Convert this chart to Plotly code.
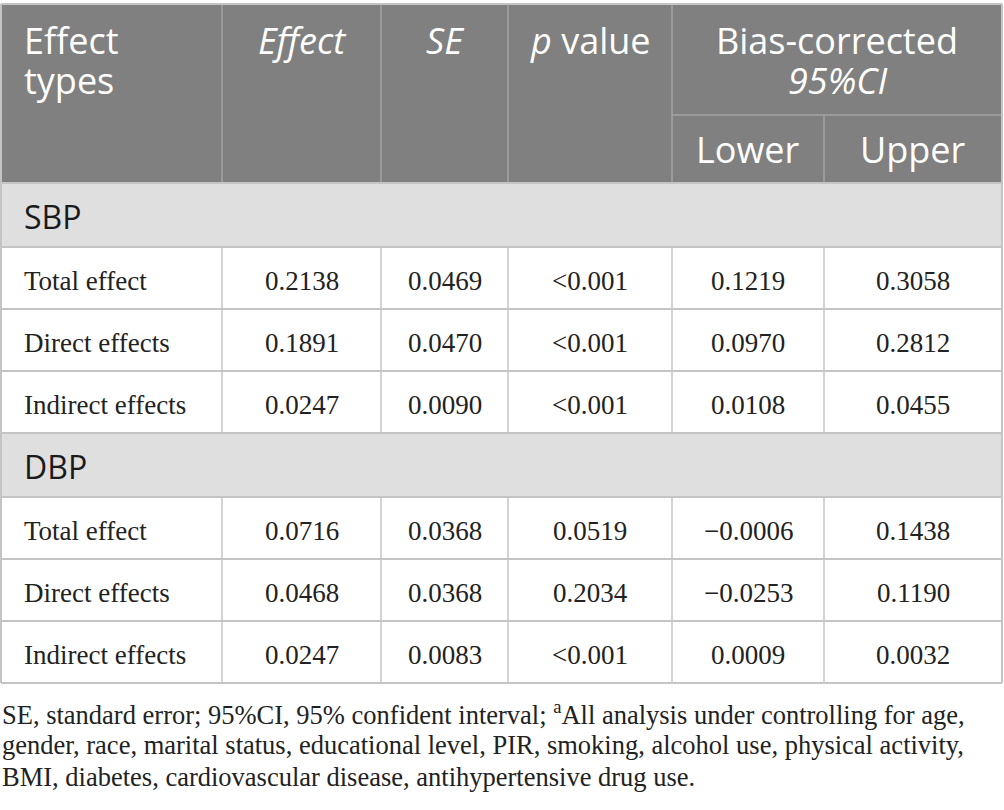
import plotly.graph_objects as go

# table content
header_top = ["Effect types", "Effect", "SE", "p value", "Bias-corrected 95%CI"]
header_sub = ["Lower", "Upper"]
groups = ["SBP", "DBP"]
effect_types = ["Total effect", "Direct effects", "Indirect effects"]

effect = [["0.2138", "0.1891", "0.0247"], ["0.0716", "0.0468", "0.0247"]]
se = [["0.0469", "0.0470", "0.0090"], ["0.0368", "0.0368", "0.0083"]]
p_value = [["<0.001", "<0.001", "<0.001"], ["0.0519", "0.2034", "<0.001"]]
ci_lower = [["0.1219", "0.0970", "0.0108"], ["\u22120.0006", "\u22120.0253", "0.0009"]]
ci_upper = [["0.3058", "0.2812", "0.0455"], ["0.1438", "0.1190", "0.0032"]]

footnote = [
    "SE, standard error; 95%CI, 95% confident interval; <sup>a</sup>All analysis under controlling for age,",
    "gender, race, marital status, educational level, PIR, smoking, alcohol use, physical activity,",
    "BMI, diabetes, cardiovascular disease, antihypertensive drug use.",
]

W, H = 1004, 810
col_edges = [1, 222, 381, 508, 672, 824, 1002]
head_top, head_mid, head_bot = 4, 115, 183
row_h = 62
group_h = 64

HEAD_BG = "#7f807f"
GROUP_BG = "#e0dfe0"
LINE = "#c4c4c4"
HEAD_LINE = "#a3a3a3"
SANS = "Open Sans"
SERIF = "Liberation Serif"

shapes = []
annotations = []


def rect(x0, y0, x1, y1, color):
    shapes.append(dict(type="rect", x0=x0, y0=y0, x1=x1, y1=y1, fillcolor=color,
                       line=dict(width=0), layer="below"))


def hline(x0, x1, y, color=LINE, width=2):
    shapes.append(dict(type="line", x0=x0, x1=x1, y0=y, y1=y, line=dict(color=color, width=width)))


def vline(x, y0, y1, color=LINE, width=1.5):
    shapes.append(dict(type="line", x0=x, x1=x, y0=y0, y1=y1, line=dict(color=color, width=width)))


def text(x, y, s, size, family, color="#222222", align="center"):
    annotations.append(dict(x=x, y=y, text=s, showarrow=False, xanchor=align, yanchor="middle",
                            font=dict(size=size, family=family, color=color)))


def center(i):
    return (col_edges[i] + col_edges[i + 1]) / 2


# header block
rect(col_edges[0], head_top, col_edges[-1], head_bot, HEAD_BG)
hline(col_edges[4], col_edges[-1], head_mid, HEAD_LINE, 1.5)
for i in range(1, 6):
    top = head_mid if i == 5 else head_top
    vline(col_edges[i], top, head_bot, HEAD_LINE, 1.5)

hs = 36
text(22, 40, "Effect", hs, SANS, "white", "left")
text(22, 80, "types", hs, SANS, "white", "left")
text(center(1), 40, "<i>Effect</i>", hs, SANS, "white")
text(center(2), 40, "<i>SE</i>", hs, SANS, "white")
text(center(3), 40, "<i>p</i> value", hs, SANS, "white")
ci_mid = (col_edges[4] + col_edges[6]) / 2
text(ci_mid, 40, "Bias-corrected", hs, SANS, "white")
text(ci_mid, 80, "<i>95%CI</i>", hs, SANS, "white")
text(center(4), 149, header_sub[0], hs, SANS, "white")
text(center(5), 149, header_sub[1], hs, SANS, "white")

# body
y = head_bot
cols = [effect, se, p_value, ci_lower, ci_upper]
for g, name in enumerate(groups):
    rect(col_edges[0], y, col_edges[-1], y + group_h, GROUP_BG)
    text(22, y + group_h / 2 + 1, name, 32, SANS, "#1a1a1a", "left")
    hline(col_edges[0], col_edges[-1], y)
    y += group_h
    for r, et in enumerate(effect_types):
        hline(col_edges[0], col_edges[-1], y)
        for i in range(1, 6):
            vline(col_edges[i], y, y + row_h)
        text(22, y + row_h / 2 + 3, et, 27, SERIF, "#222222", "left")
        for c, vals in enumerate(cols):
            text(center(c + 1), y + row_h / 2 + 3, vals[g][r], 27, SERIF)
        y += row_h
hline(col_edges[0], col_edges[-1], y)

# outer borders
vline(col_edges[0], head_top, y, LINE, 2)
vline(col_edges[-1], head_top, y, LINE, 2)
hline(col_edges[0], col_edges[-1], head_top, LINE, 2)

for k, line in enumerate(footnote):
    text(0, 713 + 32 * k, line, 26.5, SERIF, "#222222", "left")

fig = go.Figure()
fig.update_layout(
    width=W, height=H,
    margin=dict(l=0, r=0, t=0, b=0),
    paper_bgcolor="white", plot_bgcolor="white",
    xaxis=dict(range=[0, W], visible=False, fixedrange=True),
    yaxis=dict(range=[H, 0], visible=False, fixedrange=True),
    shapes=shapes, annotations=annotations,
    showlegend=False,
)
fig.write_html("out.html", config=dict(displayModeBar=False),
               post_script="document.body.style.margin='0';document.body.style.overflow='hidden';")
